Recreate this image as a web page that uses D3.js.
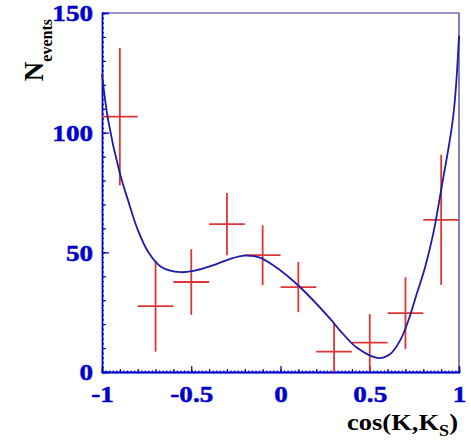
<!DOCTYPE html>
<html>
<head>
<meta charset="utf-8">
<script src="https://cdn.jsdelivr.net/npm/d3@7"></script>
<style>
  html, body { margin: 0; padding: 0; background: #fff; }
  svg { display: block; }
  text { font-family: "Liberation Serif", "Times New Roman", serif; font-weight: bold; }
</style>
</head>
<body>
<div id="chart"></div>
<script>
// histogram bins (bin centers, counts, errors)
var binCenters = [-0.9, -0.7, -0.5, -0.3, -0.1, 0.1, 0.3, 0.5, 0.7, 0.9];
var binCounts  = [106.7, 27.5, 37.6, 61.8, 48.8, 35.5, 8.5, 12.3, 24.6, 63.6];
var binErrors  = [28.7, 19, 13.7, 13, 12.5, 10.5, 11.7, 11.9, 15, 27.2];
var binHalfWidth = 0.1;

// fitted curve
var fitX = [-1, -0.965, -0.9, -0.853, -0.8, -0.74, -0.67, -0.56, -0.48, -0.37, -0.28, -0.2, -0.115,
            0, 0.11, 0.28, 0.335, 0.427, 0.548, 0.613, 0.669, 0.716, 0.763, 0.81, 0.856, 0.903, 0.968, 1];
var fitY = [124.5, 105, 83, 71.5, 59.5, 50, 44, 41.7, 42.4, 44.8, 47.3, 48.6, 47.8,
            42.4, 35.4, 22.1, 17.2, 10.2, 5.8, 7.4, 13, 21.4, 32.6, 43.8, 57.9, 77.4, 107, 140.5];

var xMajor = [-1, -0.5, 0, 0.5, 1];
var yMajor = [0, 50, 100, 150];

var width = 471,
    height = 440,
    stretch = 1.13,           // the fonts in the picture are a bit wide
    axisColor = "#0000cc",
    svg = d3.select("#chart").append("svg")
            .attr("width", width).attr("height", height);

var x = d3.scaleLinear().domain([-1, 1]).range([102, 459]);
var y = d3.scaleLinear().domain([0, 150]).range([372, 13]);

// frame top + right
svg.append("path")
    .attr("d", "M" + x(-1) + "," + y(150) + "H" + x(1) + "V" + y(0))
    .attr("fill", "none")
    .attr("stroke", "#303090")
    .attr("stroke-width", 1.2);

var xSmall = d3.range(-1, 1.0001, 0.02),
    xMedium = d3.range(-1, 1.0001, 0.1),
    ySmall = d3.range(0, 150.001, 2),
    yMedium = d3.range(0, 150.001, 10);

var gx = svg.append("g").attr("transform", "translate(0," + y(0) + ")");
gx.append("g").call(d3.axisBottom(x).tickValues(xSmall).tickSize(-1.5).tickFormat(""));
gx.append("g").call(d3.axisBottom(x).tickValues(xMedium).tickSize(-3).tickFormat(""));
gx.append("g").call(d3.axisBottom(x).tickValues(xMajor).tickSize(-6).tickPadding(13)
    .tickFormat(function(d) { return String(d); }));

var gy = svg.append("g").attr("transform", "translate(" + x(-1) + ",0)");
gy.append("g").call(d3.axisLeft(y).tickValues(ySmall).tickSize(-2).tickFormat(""));
gy.append("g").call(d3.axisLeft(y).tickValues(yMedium).tickSize(-4).tickFormat(""));
gy.append("g").call(d3.axisLeft(y).tickValues(yMajor).tickSize(-7).tickPadding(9)
    .tickFormat(function(d) { return String(d); }));

[gx, gy].forEach(function(g) {
    g.selectAll(".domain").attr("stroke", axisColor).attr("stroke-width", 1.3);
    g.selectAll(".tick line").attr("stroke", axisColor).attr("stroke-width", 1.2);
    g.selectAll(".tick text")
        .attr("fill", axisColor)
        .attr("stroke", axisColor)
        .attr("stroke-width", 0.5)
        .style("font-size", "24px")
        .style("font-family", "'Liberation Serif', serif")
        .style("font-weight", "bold")
        .attr("transform", "scale(" + stretch + ",1)");
});
gy.selectAll(".tick text").attr("x", -9 / stretch);

// error bars
var bars = svg.append("g").attr("stroke", "#e03535").attr("stroke-width", 1.8);
binCenters.forEach(function(c, i) {
    var v = binCounts[i], e = binErrors[i];
    bars.append("line")
        .attr("x1", x(c)).attr("x2", x(c))
        .attr("y1", y(Math.max(0, v - e))).attr("y2", y(Math.min(150, v + e)));
    bars.append("line")
        .attr("x1", x(c - binHalfWidth)).attr("x2", x(c + binHalfWidth))
        .attr("y1", y(v)).attr("y2", y(v));
});

// fit curve
var line = d3.line()
    .x(function(d) { return x(d[0]); })
    .y(function(d) { return y(d[1]); })
    .curve(d3.curveCatmullRom.alpha(0.5));

svg.append("path")
    .datum(d3.zip(fitX, fitY))
    .attr("d", line)
    .attr("fill", "none")
    .attr("stroke", "#1c1ca8")
    .attr("stroke-width", 1.8);

// axis titles
var yt = svg.append("text")
    .attr("transform", "translate(43,19) rotate(-90)")
    .attr("text-anchor", "end")
    .attr("fill", "#000");
yt.append("tspan").style("font-size", "27px").text("N");
yt.append("tspan").style("font-size", "16px").attr("dy", 9).text("events");

var xt = svg.append("text")
    .attr("transform", "translate(458,430) scale(" + stretch + ",1)")
    .attr("text-anchor", "end")
    .attr("fill", "#000")
    .style("font-size", "23.5px");
xt.append("tspan").text("cos(K,K");
xt.append("tspan").style("font-size", "16px").attr("dy", 6).text("S");
xt.append("tspan").attr("dy", -6).text(")");
</script>
</body>
</html>
